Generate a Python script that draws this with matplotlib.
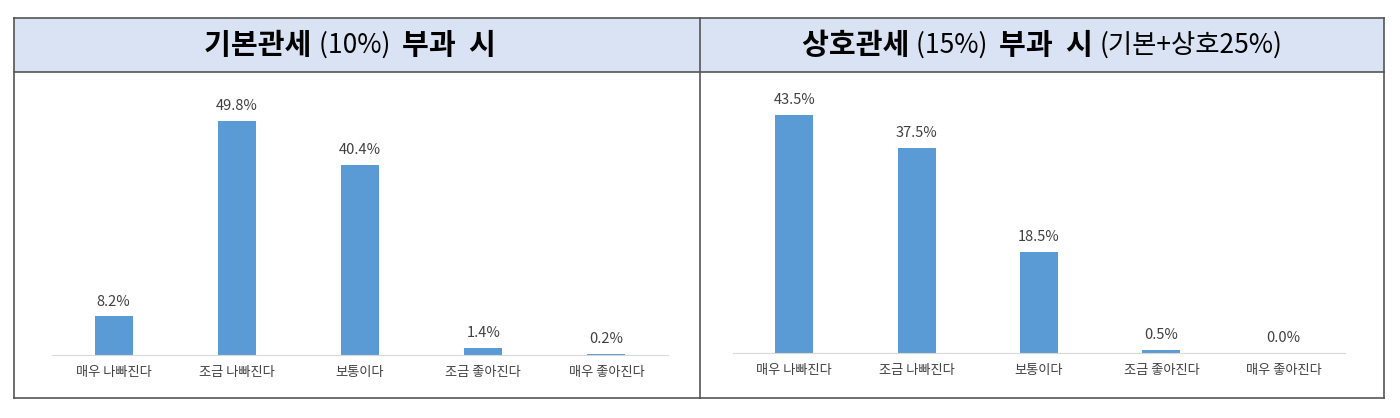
import matplotlib.pyplot as plt
from matplotlib.patches import Rectangle

plt.rcParams['font.family'] = ['Noto Sans CJK KR', 'DejaVu Sans']

categories = ["매우 나빠진다", "조금 나빠진다", "보통이다", "조금 좋아진다", "매우 좋아진다"]
basic_vals = [8.2, 49.8, 40.4, 1.4, 0.2]
recip_vals = [43.5, 37.5, 18.5, 0.5, 0.0]

W, H = 1400, 418
fig = plt.figure(figsize=(14, 4.18), dpi=100)


def px(x0, y0, x1, y1):
    # pixel box (top-left origin) -> figure fraction rect
    return [x0 / W, 1 - y1 / H, (x1 - x0) / W, (y1 - y0) / H]


# table frame and header
fig.patches.append(Rectangle((14 / W, 1 - 72 / H), 1370 / W, 54 / H, transform=fig.transFigure,
                             facecolor="#dae3f3", edgecolor="none", zorder=0))
for y in (18, 72, 398):
    fig.add_artist(plt.Line2D([14 / W, 1384 / W], [1 - y / H] * 2, color="#555555", lw=1.2))
for x in (14, 700, 1384):
    fig.add_artist(plt.Line2D([x / W] * 2, [1 - 18 / H, 1 - 398 / H], color="#555555", lw=1.2))


def header(pieces, cx, cy):
    renderer = fig.canvas.get_renderer()
    texts = []
    for s, weight, size in pieces:
        t = fig.text(0, cy / H, s, fontsize=size, fontweight=weight, va="center", ha="left")
        texts.append(t)
    widths = [t.get_window_extent(renderer).width for t in texts]
    x = cx - sum(widths) / 2
    for t, w in zip(texts, widths):
        t.set_x(x / W)
        x += w


header([("기본관세 ", "bold", 21), ("(10%)  ", "normal", 19), ("부과  시", "bold", 21)], 350, 1 * H - 45)
header([("상호관세 ", "bold", 21), ("(15%)  ", "normal", 19), ("부과  시 ", "bold", 21),
        ("(기본+상호25%)", "normal", 19)], 1042, H - 45)


def panel(rect, vals, ytop):
    ax = fig.add_axes(rect)
    ax.bar(range(len(vals)), vals, width=0.31, color="#5b9bd5")
    for i, v in enumerate(vals):
        ax.text(i, v + ytop * 0.03, f"{v:.1f}%", ha="center", va="bottom", fontsize=10.5, color="#404040")
    ax.set_xlim(-0.5, len(vals) - 0.5)
    ax.set_ylim(0, ytop)
    ax.set_xticks(range(len(vals)))
    ax.set_xticklabels(categories, fontsize=9.5, color="#404040")
    ax.tick_params(axis="x", length=0, pad=8)
    ax.set_yticks([])
    for s in ("top", "left", "right"):
        ax.spines[s].set_visible(False)
    ax.spines["bottom"].set_color("#d9d9d9")
    return ax


panel(px(52, 90, 668, 355), basic_vals, 56.4)
panel(px(733, 90, 1345, 353), recip_vals, 48.1)

fig.savefig("out.png", dpi=100)
